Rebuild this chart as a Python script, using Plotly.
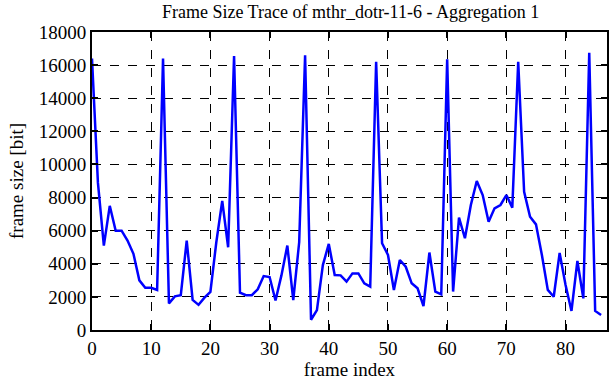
import plotly.graph_objects as go

frame_index = list(range(87))
frame_size = [
    16400, 8900, 5100, 7500, 6000, 6000, 5400, 4600, 3000, 2550,
    2550, 2420, 16400, 1610, 2030, 2100, 5400, 1820, 1520, 1950,
    2300, 5300, 7800, 5000, 16550, 2260, 2100, 2100, 2460, 3260,
    3200, 1780, 3300, 5100, 1800, 5300, 16600, 620, 1200, 3920,
    5200, 3320, 3300, 2920, 3420, 3420, 2820, 2620, 16200, 5240,
    4530, 2420, 4230, 3820, 2820, 2520, 1450, 4680, 2320, 2150,
    16350, 2320, 6790, 5540, 7550, 9000, 8150, 6540, 7350, 7550,
    8150, 7390, 16200, 8350, 6840, 6380, 4530, 2420, 2010, 4650,
    2720, 1150, 4170, 1910, 16750, 1150, 900,
]

x_ticks = [0, 10, 20, 30, 40, 50, 60, 70, 80]
y_ticks = [0, 2000, 4000, 6000, 8000, 10000, 12000, 14000, 16000, 18000]

title_text = "Frame Size Trace of mthr_dotr-11-6 - Aggregation 1"
x_title = "frame index"
y_title = "frame size [bit]"

serif = "Liberation Serif, Times New Roman, serif"

fig = go.Figure()
fig.add_trace(go.Scatter(
    x=frame_index, y=frame_size, mode="lines",
    line=dict(color="#0000FF", width=2.5),
    showlegend=False,
))

axis_common = dict(
    showgrid=True, gridcolor="black", gridwidth=1, griddash="dash",
    showline=True, linecolor="black", linewidth=2, mirror="ticks",
    ticks="inside", ticklen=6, tickcolor="black", tickwidth=1.5,
    zeroline=False,
    tickfont=dict(family=serif, size=19, color="black"),
)

fig.update_layout(
    width=612, height=382,
    margin=dict(l=92, r=3, t=32, b=52),
    paper_bgcolor="white", plot_bgcolor="white",
    title=dict(text=title_text, x=0.573, xanchor="center", y=0.985, yanchor="top",
               font=dict(family=serif, size=18, color="black")),
    xaxis=dict(range=[0, 87], tickvals=x_ticks, tickformat="d",
               title=dict(text=x_title, font=dict(family=serif, size=19, color="black"), standoff=4),
               **axis_common),
    yaxis=dict(range=[0, 18000], tickvals=y_ticks, tickformat="d",
               title=dict(text=y_title, font=dict(family=serif, size=19, color="black"), standoff=10),
               **axis_common),
)

fig.write_html("out.html", config={"displayModeBar": False})

with open("out.html", "r", encoding="utf-8") as f:
    html = f.read()
html = html.replace("<head>", "<head><style>html,body{margin:0;padding:0;overflow:hidden;}</style>", 1)
with open("out.html", "w", encoding="utf-8") as f:
    f.write(html)
